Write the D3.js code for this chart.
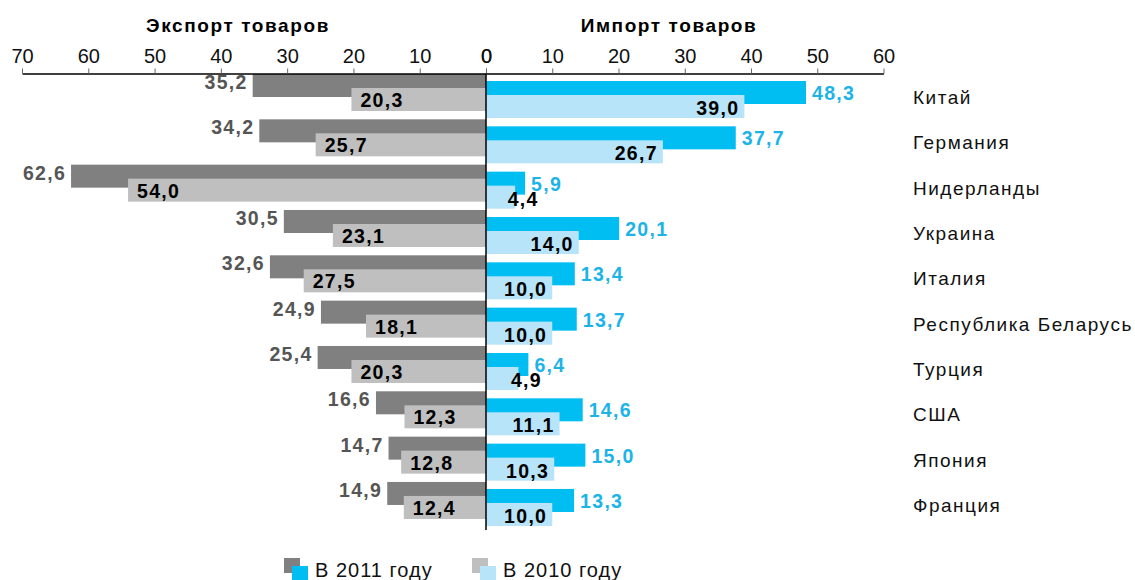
<!DOCTYPE html>
<html>
<head>
<meta charset="utf-8">
<script src="https://cdn.jsdelivr.net/npm/d3@7"></script>
<style>
  body { margin: 0; background: #fff; }
  svg { font-family: "Liberation Sans", Arial, sans-serif; }
</style>
</head>
<body>
<div id="vis-holder"></div>
<script>
// data
const countries = ["Китай", "Германия", "Нидерланды", "Украина", "Италия",
    "Республика Беларусь", "Турция", "США", "Япония", "Франция"];
const export2011 = [35.2, 34.2, 62.6, 30.5, 32.6, 24.9, 25.4, 16.6, 14.7, 14.9];
const export2010 = [20.3, 25.7, 54.0, 23.1, 27.5, 18.1, 20.3, 12.3, 12.8, 12.4];
const import2011 = [48.3, 37.7, 5.9, 20.1, 13.4, 13.7, 6.4, 14.6, 15.0, 13.3];
const import2010 = [39.0, 26.7, 4.4, 14.0, 10.0, 10.0, 4.9, 11.1, 10.3, 10.0];
const exportTicks = [70, 60, 50, 40, 30, 20, 10, 0];
const importTicks = [0, 10, 20, 30, 40, 50, 60];
const legendLabels = ["В 2011 году", "В 2010 году"];

const w = 1135;
const h = 580;
const c = {dark: "#808080", light: "#bfbfbf", blue: "#00bdf2", lblue: "#b8e4f9",
    darkText: "#555555", blueText: "#1cb4e8"};

const svg = d3.select("#vis-holder").append("svg")
    .attr("width", w).attr("height", h);

const axisY = 73.5;
const x0 = 486;
const xExp = d3.scaleLinear().domain([0, 70]).range([x0, 22]);
const xImp = d3.scaleLinear().domain([0, 60]).range([x0, 883.5]);
const y = d3.scaleBand().domain(countries).range([74, 527.3]);
const barH = 23, step2 = 14, rightShift = 7;

const fmt = v => d3.format(".1f")(v).replace(".", ",");

const rows = countries.map((k, i) => ({k, e11: export2011[i], e10: export2010[i], i11: import2011[i], i10: import2010[i]}));

// bars - export (left)
svg.selectAll("rect.e11").data(rows).enter().append("rect")
    .attr("x", d => xExp(d.e11)).attr("y", d => y(d.k))
    .attr("width", d => x0 - xExp(d.e11)).attr("height", barH)
    .attr("fill", c.dark);
svg.selectAll("rect.e10").data(rows).enter().append("rect")
    .attr("x", d => xExp(d.e10)).attr("y", d => y(d.k) + step2)
    .attr("width", d => x0 - xExp(d.e10)).attr("height", barH)
    .attr("fill", c.light);

// bars - import (right)
svg.selectAll("rect.i11").data(rows).enter().append("rect")
    .attr("x", x0).attr("y", d => y(d.k) + rightShift)
    .attr("width", d => xImp(d.i11) - x0).attr("height", barH)
    .attr("fill", c.blue);
svg.selectAll("rect.i10").data(rows).enter().append("rect")
    .attr("x", x0).attr("y", d => y(d.k) + rightShift + step2)
    .attr("width", d => xImp(d.i10) - x0).attr("height", barH)
    .attr("fill", c.lblue);

// value labels
const lab = svg.append("g").attr("font-weight", "bold").attr("font-size", "19.5px")
    .attr("letter-spacing", "1.3px");

lab.selectAll("text.e11").data(rows).enter().append("text")
    .attr("x", d => xExp(d.e11) - 5).attr("y", d => y(d.k) + 15)
    .attr("text-anchor", "end").attr("fill", c.darkText)
    .text(d => fmt(d.e11));
lab.selectAll("text.e10").data(rows).enter().append("text")
    .attr("x", d => xExp(d.e10) + 9).attr("y", d => y(d.k) + 33)
    .attr("text-anchor", "start").attr("fill", "#000")
    .text(d => fmt(d.e10));
lab.selectAll("text.i11").data(rows).enter().append("text")
    .attr("x", d => xImp(d.i11) + 6).attr("y", d => y(d.k) + rightShift + 19)
    .attr("text-anchor", "start").attr("fill", c.blueText)
    .text(d => fmt(d.i11));
lab.selectAll("text.i10").data(rows).enter().append("text")
    .attr("x", d => d.i10 < 6 ? xImp(d.i10) + 8 : xImp(d.i10) - 5)
    .attr("y", d => y(d.k) + rightShift + 34)
    .attr("text-anchor", d => d.i10 < 6 ? "middle" : "end").attr("fill", "#000")
    .text(d => fmt(d.i10));

// axes
const axE = svg.append("g").attr("transform", "translate(0," + axisY + ")")
    .call(d3.axisTop(xExp).tickValues(exportTicks).tickSize(5).tickSizeOuter(0).tickPadding(6).tickFormat(d3.format("d")));
const axI = svg.append("g").attr("transform", "translate(0," + axisY + ")")
    .call(d3.axisTop(xImp).tickValues(importTicks).tickSize(5).tickSizeOuter(0).tickPadding(6).tickFormat(d3.format("d")));
[axE, axI].forEach(a => {
    a.selectAll("text").attr("font-size", "20px").attr("font-family", "Liberation Sans, Arial, sans-serif").attr("fill", "#111");
    a.select(".domain").attr("stroke", "#000").attr("stroke-width", 1.5);
    a.selectAll(".tick line").attr("stroke", "#666");
});

// center line
svg.append("line").attr("x1", x0).attr("x2", x0).attr("y1", axisY).attr("y2", 530)
    .attr("stroke", "#000").attr("stroke-width", 1.5);

// titles
svg.append("text").attr("x", 238).attr("y", 32).attr("text-anchor", "middle")
    .attr("font-weight", "bold").attr("font-size", "19px").attr("letter-spacing", "1.6px")
    .text("Экспорт товаров");
svg.append("text").attr("x", 669).attr("y", 32).attr("text-anchor", "middle")
    .attr("font-weight", "bold").attr("font-size", "19px").attr("letter-spacing", "1.6px")
    .text("Импорт товаров");

// category labels
svg.selectAll("text.cat").data(countries).enter().append("text")
    .attr("x", 913).attr("y", d => y(d) + rightShift + 23)
    .attr("font-size", "19px").attr("letter-spacing", "1.5px").attr("fill", "#111")
    .text(d => d);

// legend
const legend = [
    {lab: legendLabels[0], a: c.dark, b: c.blue, x: 284},
    {lab: legendLabels[1], a: c.light, b: c.lblue, x: 472}
];
const lg = svg.selectAll("g.lg").data(legend).enter().append("g")
    .attr("transform", d => "translate(" + d.x + ",558)");
lg.append("rect").attr("width", 16).attr("height", 15).attr("fill", d => d.a);
lg.append("rect").attr("x", 8).attr("y", 8).attr("width", 16).attr("height", 16).attr("fill", d => d.b);
lg.append("text").attr("x", 31).attr("y", 19).attr("font-size", "20px").attr("letter-spacing", "1px")
    .attr("fill", "#111").text(d => d.lab);
</script>
</body>
</html>
